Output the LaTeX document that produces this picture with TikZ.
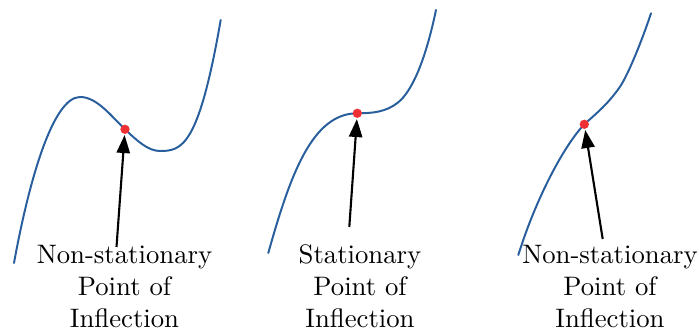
\documentclass[tikz,border=0pt]{standalone}
\usepackage{tikz}
\usetikzlibrary{arrows.meta}
\definecolor{curveblue}{RGB}{40,94,156}
\definecolor{dotred}{RGB}{238,48,52}
\tikzset{
  curveline/.style = {curveblue,line width=1.4pt,line cap=round},
  ptdot/.style     = {circle,fill=dotred,inner sep=0pt,minimum size=6.6pt},
  ptarr/.style     = {-{Triangle[length=12.8pt,width=9.4pt]},line width=1.5pt,shorten >=0.6pt},
  lbl/.style       = {align=center,anchor=base,inner sep=0pt,scale=1.9}
}
\begin{document}
\begin{tikzpicture}[x=0.025cm,y=-0.025cm]
  \useasboundingbox (0,0) rectangle (698,333);
  % curves
  \draw[curveline] (14,263) .. controls (29,180.5) and (53,97) .. (80,97)
    .. controls (97,97) and (111,116) .. (125,129.3)
    .. controls (137,140.7) and (148,151) .. (160,151)
    .. controls (182,151) and (198.7,146.5) .. (220.7,20);
  \draw[curveline] (268.3,253) .. controls (290.3,174.5) and (312.3,113.3) .. (357.3,113.3)
    .. controls (372.3,113.3) and (386,112.1) .. (398,102.5)
    .. controls (406,96.1) and (422,76.8) .. (436,10);
  \draw[curveline] (518.3,255) .. controls (536.3,197.4) and (564.3,145.3) .. (584.3,124.3)
    .. controls (597.3,112.6) and (607,104.8) .. (619,88.2)
    .. controls (628,75.8) and (643,37.6) .. (651,13.3);
  % points of inflection
  \node[ptdot] (pA) at (125,129.3) {};
  \node[ptdot] (pB) at (357.3,113.3) {};
  \node[ptdot] (pC) at (584.3,124.3) {};
  % labels
  \node[lbl] (lA) at (124.5,328) {Non-stationary\\Point of\\Inflection};
  \node[lbl] (lB) at (360,328) {Stationary\\Point of\\Inflection};
  \node[lbl] (lC) at (610,328) {Non-stationary\\Point of\\Inflection};
  \coordinate (tA) at (116.5,247);
  \coordinate (tB) at (349.3,227);
  \coordinate (tC) at (602.7,239);
  \draw[ptarr] (tA) -- (pA);
  \draw[ptarr] (tB) -- (pB);
  \draw[ptarr] (tC) -- (pC);
\end{tikzpicture}
\end{document}
